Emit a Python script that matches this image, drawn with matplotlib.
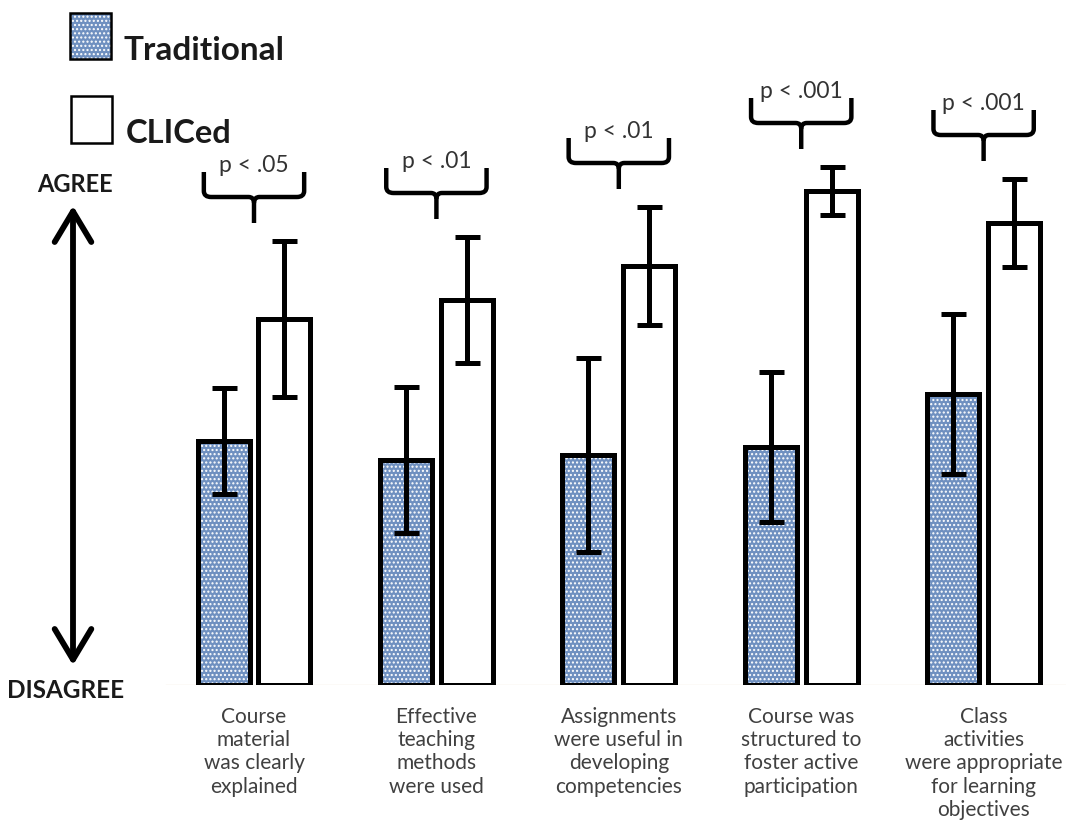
import matplotlib
matplotlib.use("Agg")
import matplotlib.pyplot as plt
from matplotlib.patches import Rectangle, FancyArrowPatch, PathPatch
from matplotlib.path import Path
import numpy as np

categories = ["Course\nmaterial\nwas clearly\nexplained",
              "Effective\nteaching\nmethods\nwere used",
              "Assignments\nwere useful in\ndeveloping\ncompetencies",
              "Course was\nstructured to\nfoster active\nparticipation",
              "Class\nactivities\nwere appropriate\nfor learning\nobjectives"]
traditional = [2.44, 2.25, 2.30, 2.38, 2.91]
traditional_err = [0.53, 0.73, 0.97, 0.75, 0.80]
cliced = [3.66, 3.85, 4.19, 4.94, 4.62]
cliced_err = [0.78, 0.63, 0.59, 0.24, 0.44]
pvalues = ["p < .05", "p < .01", "p < .01", "p < .001", "p < .001"]
series_names = ["Traditional", "CLICed"]

W, H = 1069, 839
fig = plt.figure(figsize=(W / 100, H / 100), dpi=100)
fig.patch.set_facecolor("white")

left_px, right_px = 162.8, 1065.7
base_px, top_px = 685, 35
ax = fig.add_axes([left_px / W, (H - base_px) / H, (right_px - left_px) / W, (base_px - top_px) / H])
ax.set_xlim(-0.5, 4.45)
ax.set_ylim(0, 6.5)
ax.axis("off")

x = np.arange(len(categories))
bw = 0.285
off = 0.167
blue = "#6f90c0"
lw_bar = 3.6

plt.rcParams["hatch.linewidth"] = 1.0

# Traditional bars: blue with white dot pattern
ax.bar(x - off, traditional, bw, color=blue, edgecolor="white", hatch="....", linewidth=0, zorder=2)
ax.bar(x - off, traditional, bw, facecolor="none", edgecolor="black", linewidth=lw_bar, zorder=3)
ax.bar(x + off, cliced, bw, facecolor="white", edgecolor="black", linewidth=lw_bar, zorder=3)

ekw = dict(fmt="none", ecolor="black", elinewidth=3.6, capsize=9, capthick=3.6, zorder=4)
ax.errorbar(x - off, traditional, yerr=traditional_err, **ekw)
ax.errorbar(x + off, cliced, yerr=cliced_err, **ekw)

# faint baseline
ax.plot([-0.5 + 0.02, 4.45], [0, 0], color="#f4ead8", lw=1, zorder=1)

# Braces with p-values
hw = 0.275
for i in range(len(categories)):
    tip = max(traditional[i] + traditional_err[i], cliced[i] + cliced_err[i]) + 0.18
    hline = tip + 0.26
    hook = hline + 0.25
    r = 0.04
    c = x[i]
    verts = [(c - hw, hook), (c - hw, hline + 0.06), (c - hw, hline), (c - hw + r, hline),
             (c - 0.03, hline), (c, hline), (c, hline - 0.06), (c, tip)]
    codes = [Path.MOVETO, Path.LINETO, Path.CURVE3, Path.CURVE3, Path.LINETO, Path.CURVE3, Path.CURVE3, Path.LINETO]
    verts2 = [(c + hw, hook), (c + hw, hline + 0.06), (c + hw, hline), (c + hw - r, hline),
              (c + 0.03, hline), (c, hline), (c, hline - 0.06)]
    codes2 = [Path.MOVETO, Path.LINETO, Path.CURVE3, Path.CURVE3, Path.LINETO, Path.CURVE3, Path.CURVE3]
    for v, cd in ((verts, codes), (verts2, codes2)):
        ax.add_patch(PathPatch(Path(v, cd), facecolor="none", edgecolor="black", lw=3.2,
                               capstyle="butt", joinstyle="round", zorder=4, clip_on=False))
    ax.text(c, hline + 0.25, pvalues[i], ha="center", va="baseline", fontsize=16.5,
            family="Lato", color="#333333", clip_on=False)

# Category labels
for i, lab in enumerate(categories):
    ax.text(x[i], -0.22, lab, ha="center", va="top", fontsize=15, family="Lato",
            color="#404040", linespacing=1.2, clip_on=False)

# Legend
def fx(px):
    return px / W

def fy(py):
    return (H - py) / H

fig.patches.append(Rectangle((fx(70), fy(59)), 41 / W, 46 / H, transform=fig.transFigure,
                             facecolor=blue, edgecolor="white", hatch="....", linewidth=0, zorder=2))
fig.patches.append(Rectangle((fx(70), fy(59)), 41 / W, 46 / H, transform=fig.transFigure,
                             facecolor="none", edgecolor="black", linewidth=1.8, zorder=3))
fig.patches.append(Rectangle((fx(71), fy(143)), 41 / W, 47 / H, transform=fig.transFigure,
                             facecolor="white", edgecolor="black", linewidth=1.8, zorder=3))
fig.text(fx(124), fy(60), series_names[0], fontsize=24, fontweight="bold", family="Lato",
         color="#1a1a1a", va="baseline", ha="left")
fig.text(fx(126), fy(143), series_names[1], fontsize=23.5, fontweight="bold", family="Lato",
         color="#1a1a1a", va="baseline", ha="left")

# Agree / Disagree arrow
fig.text(fx(75), fy(192), "AGREE", fontsize=17, fontweight="bold", family="Lato",
         color="#1a1a1a", va="baseline", ha="center")
fig.text(fx(66), fy(698), "DISAGREE", fontsize=17.5, fontweight="bold", family="Lato",
         color="#1a1a1a", va="baseline", ha="center")
fig.add_artist(FancyArrowPatch(
    (fx(73), fy(668)), (fx(73), fy(203)), transform=fig.transFigure,
    arrowstyle="<->,head_length=10,head_width=6", color="black", lw=4.2, mutation_scale=2.2))

fig.savefig("out.png", dpi=100, facecolor="white")
